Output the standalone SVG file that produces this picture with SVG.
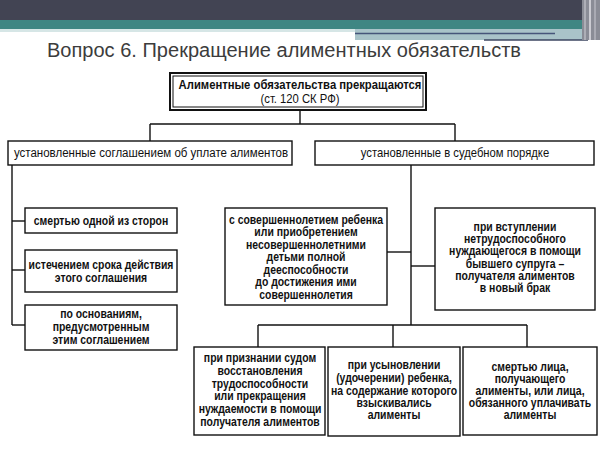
<svg xmlns="http://www.w3.org/2000/svg" width="600" height="449" viewBox="0 0 600 449">
<style>
.box{fill:#fff;stroke:#111;stroke-width:1.4}
.conn line{stroke:#111;stroke-width:1.4}
.t{font-family:"Liberation Sans",Arial,sans-serif;font-weight:bold;font-size:12px;fill:#111;text-anchor:middle}
.r{font-weight:normal}
</style>
<rect width="600" height="449" fill="#fff"/>
<g id="header">
<rect x="0" y="0" width="600" height="20" fill="#424453"/>
<rect x="0" y="20" width="600" height="9" fill="#3f8683"/>
<rect x="0" y="29" width="355" height="3" fill="#d6e6e6"/>
<rect x="355" y="29" width="235" height="11" fill="#a9c3c9"/>
<line x1="355" y1="33.5" x2="555" y2="33.5" stroke="#46557a" stroke-width="1.5"/>
<line x1="484" y1="40" x2="588" y2="40" stroke="#3d4660" stroke-width="1.5"/>
<rect x="582" y="0" width="18" height="40" fill="#8a8c96"/>
<line x1="585" y1="0" x2="585" y2="40" stroke="#d0d0d6" stroke-width="1"/>
<line x1="590" y1="0" x2="590" y2="40" stroke="#e0e0e6" stroke-width="1.5"/>
<line x1="595" y1="0" x2="595" y2="40" stroke="#c8c8d0" stroke-width="1"/>
</g>
<text id="title" x="47" y="57" font-family="Liberation Sans, Arial, sans-serif" font-size="20" fill="#3c3c3c" textLength="474" lengthAdjust="spacingAndGlyphs">Вопрос 6. Прекращение алиментных обязательств</text>
<g class="conn" id="connectors">
<line x1="300" y1="110" x2="300" y2="124"/>
<line x1="150" y1="124" x2="455" y2="124"/>
<line x1="150" y1="124" x2="150" y2="141"/>
<line x1="455" y1="124" x2="455" y2="141"/>
<line x1="12" y1="165" x2="12" y2="325"/>
<line x1="12" y1="221" x2="25" y2="221"/>
<line x1="12" y1="270" x2="25" y2="270"/>
<line x1="12" y1="325" x2="25" y2="325"/>
<line x1="411" y1="165" x2="411" y2="325"/>
<line x1="387" y1="252" x2="411" y2="252"/>
<line x1="411" y1="266" x2="435" y2="266"/>
<line x1="258" y1="325" x2="527" y2="325"/>
<line x1="258" y1="325" x2="258" y2="347"/>
<line x1="393" y1="325" x2="393" y2="347"/>
<line x1="527" y1="325" x2="527" y2="347"/>
</g>
<g id="root">
<rect x="170" y="73" width="256" height="37" fill="#fff" stroke="#111" stroke-width="2"/>
<rect x="173" y="76" width="250" height="31" fill="none" stroke="#111" stroke-width="1"/>
<g transform="translate(300,0) scale(0.94,1)">
<text class="t" x="0" y="89">Алиментные обязательства прекращаются</text>
<text class="t r" x="0" y="103">(ст. 120 СК РФ)</text>
</g>
</g>
<g id="agreement">
<rect class="box" x="8" y="141" width="284" height="24"/>
<g transform="translate(151,0) scale(0.96,1)"><text class="t r" x="0" y="157">установленные соглашением об уплате алиментов</text></g>
</g>
<g id="court">
<rect class="box" x="315" y="141" width="279" height="24"/>
<g transform="translate(455,0) scale(0.94,1)"><text class="t r" x="0" y="157">установленные в судебном порядке</text></g>
</g>
<g id="a1">
<rect class="box" x="25" y="208" width="152" height="25"/>
<g transform="translate(101,0) scale(0.87,1)"><text class="t" x="0" y="225">смертью одной из сторон</text></g>
</g>
<g id="a2">
<rect class="box" x="25" y="250" width="152" height="42"/>
<g transform="translate(101,0) scale(0.87,1)">
<text class="t" x="0" y="269">истечением срока действия</text>
<text class="t" x="0" y="282">этого соглашения</text>
</g>
</g>
<g id="a3">
<rect class="box" x="25" y="305" width="152" height="45"/>
<g transform="translate(101,0) scale(0.87,1)">
<text class="t" x="0" y="318">по основаниям,</text>
<text class="t" x="0" y="331">предусмотренным</text>
<text class="t" x="0" y="344">этим соглашением</text>
</g>
</g>
<g id="c1">
<rect class="box" x="225" y="208" width="162" height="97"/>
<g transform="translate(306,0) scale(0.87,1)">
<text class="t" x="0" y="224">с совершеннолетием ребенка</text>
<text class="t" x="0" y="236.5">или приобретением</text>
<text class="t" x="0" y="249">несовершеннолетними</text>
<text class="t" x="0" y="261.5">детьми полной</text>
<text class="t" x="0" y="274">дееспособности</text>
<text class="t" x="0" y="286.5">до достижения ими</text>
<text class="t" x="0" y="299">совершеннолетия</text>
</g>
</g>
<g id="c2">
<rect class="box" x="435" y="208" width="160" height="102"/>
<g transform="translate(515,0) scale(0.87,1)">
<text class="t" x="0" y="231">при вступлении</text>
<text class="t" x="0" y="243.2">нетрудоспособного</text>
<text class="t" x="0" y="255.4">нуждающегося в помощи</text>
<text class="t" x="0" y="267.6">бывшего супруга –</text>
<text class="t" x="0" y="279.8">получателя алиментов</text>
<text class="t" x="0" y="292">в новый брак</text>
</g>
</g>
<g id="c3">
<rect class="box" x="194" y="347" width="131" height="88"/>
<g transform="translate(260,0) scale(0.87,1)">
<text class="t" x="0" y="362">при признании судом</text>
<text class="t" x="0" y="374.8">восстановления</text>
<text class="t" x="0" y="387.6">трудоспособности</text>
<text class="t" x="0" y="400.4">или прекращения</text>
<text class="t" x="0" y="413.2">нуждаемости в помощи</text>
<text class="t" x="0" y="426">получателя алиментов</text>
</g>
</g>
<g id="c4">
<rect class="box" x="328" y="347" width="132" height="89"/>
<g transform="translate(394,0) scale(0.87,1)">
<text class="t" x="0" y="369">при усыновлении</text>
<text class="t" x="0" y="382">(удочерении) ребенка,</text>
<text class="t" x="0" y="395">на содержание которого</text>
<text class="t" x="0" y="407">взыскивались</text>
<text class="t" x="0" y="419">алименты</text>
</g>
</g>
<g id="c5">
<rect class="box" x="463" y="347" width="134" height="88"/>
<g transform="translate(530,0) scale(0.87,1)">
<text class="t" x="0" y="371">смертью лица,</text>
<text class="t" x="0" y="383">получающего</text>
<text class="t" x="0" y="395">алименты, или лица,</text>
<text class="t" x="0" y="407">обязанного уплачивать</text>
<text class="t" x="0" y="419">алименты</text>
</g>
</g>
</svg>
